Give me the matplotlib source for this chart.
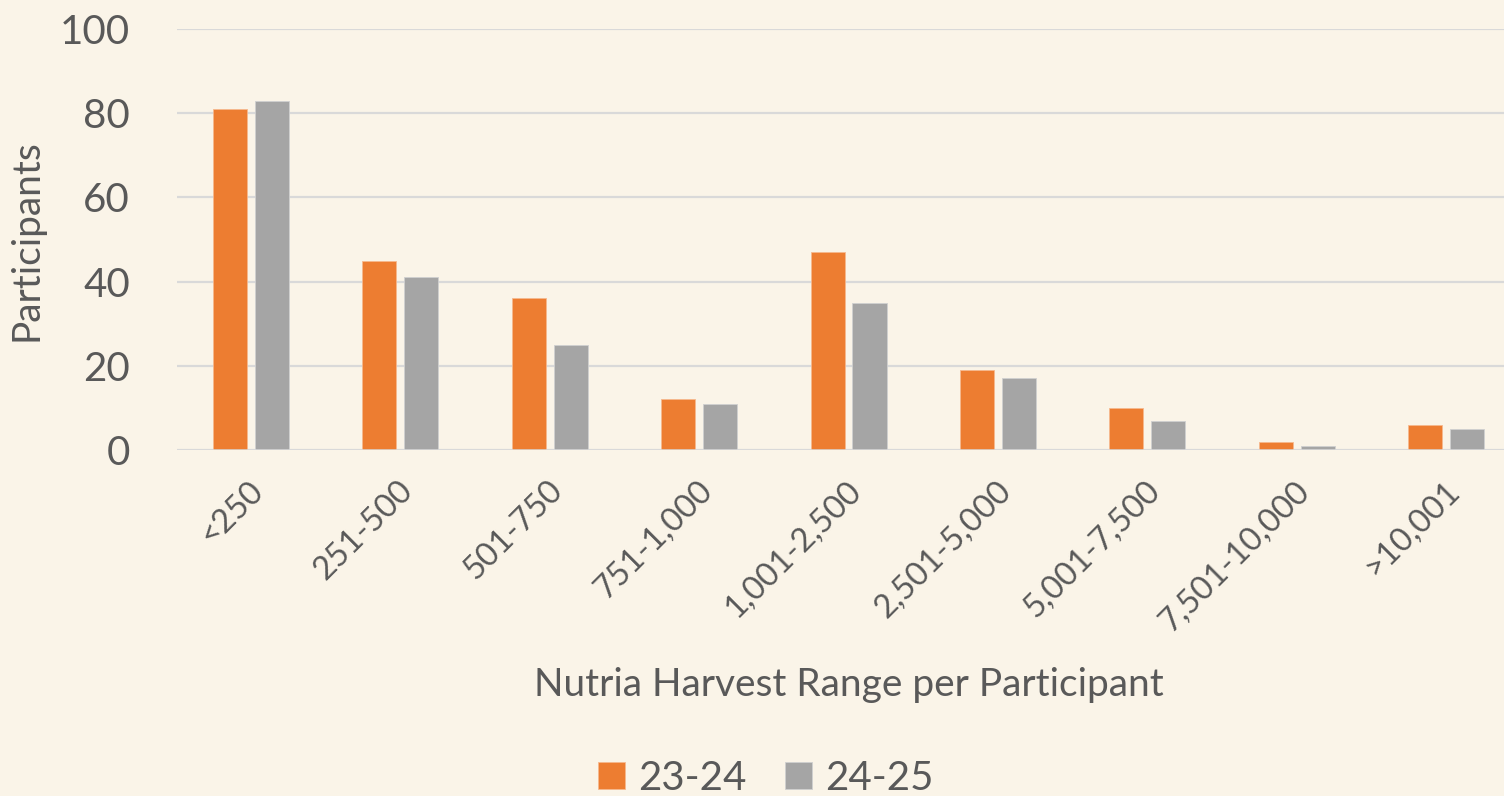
import numpy as np
import matplotlib
matplotlib.use("Agg")
import matplotlib.pyplot as plt
import matplotlib.transforms as mtransforms

# Harvest ranges and participant counts per season
categories = ["<250", "251-500", "501-750", "751-1,000", "1,001-2,500",
              "2,501-5,000", "5,001-7,500", "7,501-10,000", ">10,001"]
season_2324 = [81, 45, 36, 12, 47, 19, 10, 2, 6]
season_2425 = [83, 41, 25, 11, 35, 17, 7, 1, 5]
series_labels = ["23-24", "24-25"]
y_ticks = [0, 20, 40, 60, 80, 100]

BG = "#FAF4E8"
ORANGE = "#ED7D31"
GRAY = "#A5A5A5"
TEXT = "#595959"
GRID = "#D9D9D9"

plt.rcParams["font.family"] = ["Lato", "DejaVu Sans"]

fig = plt.figure(figsize=(15.04, 7.96), dpi=100, facecolor=BG)
ax = fig.add_axes([177 / 1504, 1 - 450 / 796, 1 - 177 / 1504, (450 - 29) / 796])
ax.set_facecolor(BG)

x = np.arange(len(categories))
width = 0.228
offset = 0.14

ax.bar(x - offset, season_2324, width, color=ORANGE, label=series_labels[0],
       edgecolor="#F6B88E", linewidth=0.6, zorder=3)
ax.bar(x + offset, season_2425, width, color=GRAY, label=series_labels[1],
       edgecolor="#D0D0D0", linewidth=0.6, zorder=3)

ax.set_xlim(-0.495, 8.387)
ax.set_ylim(0, 100)
ax.set_yticks(y_ticks)
ax.yaxis.grid(True, color=GRID, linewidth=1.6, zorder=0)
ax.set_axisbelow(True)
for s in ax.spines.values():
    s.set_visible(False)
ax.axhline(0, color=GRID, linewidth=1.8, zorder=4)

ax.tick_params(axis="y", length=0, pad=34, labelsize=29, labelcolor=TEXT)
ax.tick_params(axis="x", length=0, pad=26, labelsize=23.5, labelcolor=TEXT)

ax.set_xticks(x)
ax.set_xticklabels(categories)
# nudge rotated labels so their ends sit just right of the group centre
shift = mtransforms.ScaledTranslation(8 / 100, 0, fig.dpi_scale_trans)
for lbl in ax.get_xticklabels():
    lbl.set_rotation(45)
    lbl.set_ha("right")
    lbl.set_va("center")
    lbl.set_rotation_mode("anchor")
    lbl.set_transform(lbl.get_transform() + shift)

fig.text(849 / 1504, 1 - 685 / 796, "Nutria Harvest Range per Participant",
         ha="center", va="center", fontsize=28, color=TEXT)
fig.text(27 / 1504, 1 - 240 / 796, "Participants", rotation=90,
         ha="center", va="center", fontsize=28, color=TEXT)

leg = fig.legend(loc="center", bbox_to_anchor=(766 / 1504, 1 - 778 / 796),
                 ncol=2, frameon=False, fontsize=29, handlelength=0.67,
                 handleheight=0.67, handletextpad=0.32, columnspacing=0.97)
for t in leg.get_texts():
    t.set_color(TEXT)

fig.savefig("out.png", dpi=100, facecolor=BG)
